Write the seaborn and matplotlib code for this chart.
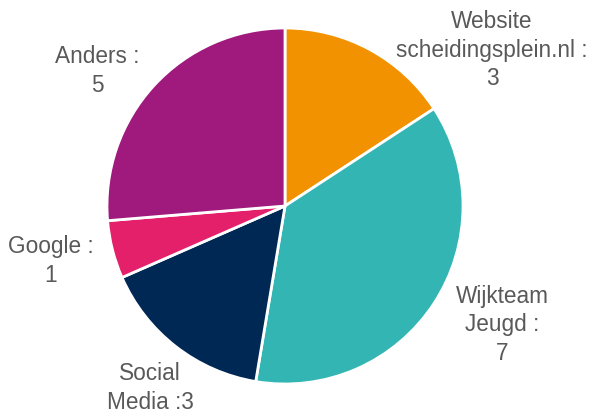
import matplotlib
matplotlib.use("Agg")
import matplotlib.pyplot as plt
import seaborn as sns

categories = ["Website\nscheidingsplein.nl :\n3", "Wijkteam\nJeugd :\n7", "Social\nMedia :3", "Google :\n1", "Anders :\n5"]
values = [3, 7, 3, 1, 5]
colors = ["#F39200", "#33B5B3", "#002855", "#E5206B", "#A0197D"]
label_pos = [(492, 50), (502, 325), (150, 388), (51, 261), (97, 71)]

sns.set_theme(style="white")
plt.rcParams['font.family'] = ['Liberation Sans', 'DejaVu Sans']

fig = plt.figure(figsize=(5.95, 4.16), dpi=100)
ax = fig.add_axes([0, 0, 1, 1])

palette = sns.color_palette(colors)
ax.pie(values, colors=palette, startangle=90, counterclock=False,
       center=(285, 416 - 206), radius=178, frame=True,
       wedgeprops=dict(edgecolor="white", linewidth=2))
ax.set_xlim(0, 595)
ax.set_ylim(0, 416)
ax.axis("off")

for lab, (x, y) in zip(categories, label_pos):
    ax.text(x, 416 - y, lab, ha="center", va="center", fontsize=16.3,
            color="#595959", linespacing=1.33)

fig.savefig("out.png", dpi=100)
